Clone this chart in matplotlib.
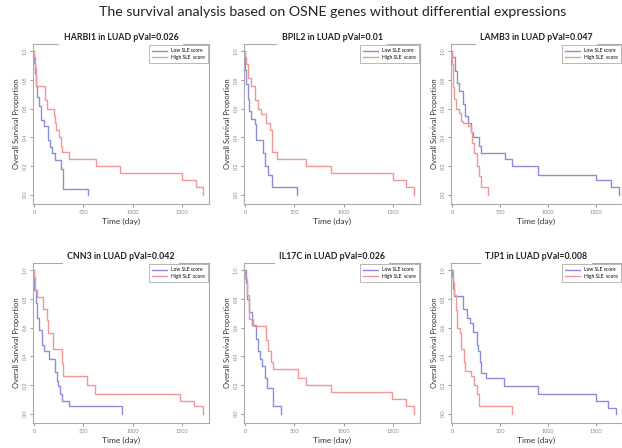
import numpy as np
import matplotlib
matplotlib.use("Agg")
import matplotlib.pyplot as plt

plt.rcParams['font.family'] = ['Lato', 'DejaVu Sans']

suptitle = "The survival analysis based on OSNE genes without differential expressions"
genes = ["HARBI1", "BPIL2", "LAMB3", "CNN3", "IL17C", "TJP1"]
pvals = ["0.026", "0.01", "0.047", "0.042", "0.026", "0.008"]

# Kaplan-Meier steps: (days, survival) for low / high SLE score
low_t = [
    [0, 5, 10, 20, 30, 50, 74, 101, 141, 158, 185, 209, 269, 293, 545],
    [0, 2, 7, 28, 45, 62, 97, 114, 183, 200, 235, 276, 521],
    [0, 2, 34, 48, 76, 110, 134, 162, 196, 224, 282, 299, 557, 626, 894, 1503, 1658, 1737],
    [0, 3, 17, 34, 51, 85, 101, 155, 213, 230, 247, 264, 281, 355, 889],
    [0, 10, 24, 41, 75, 109, 133, 153, 177, 201, 221, 279, 364],
    [0, 2, 7, 24, 114, 158, 192, 215, 259, 276, 292, 302, 353, 538, 897, 1495, 1620, 1710],
]
low_s = [
    [1.0, 0.92, 0.84, 0.76, 0.68, 0.62, 0.52, 0.48, 0.38, 0.33, 0.29, 0.24, 0.18, 0.04, 0.0],
    [1.0, 0.87, 0.77, 0.67, 0.58, 0.53, 0.49, 0.38, 0.29, 0.20, 0.14, 0.05, 0.0],
    [1.0, 0.96, 0.86, 0.78, 0.72, 0.63, 0.55, 0.50, 0.44, 0.40, 0.34, 0.29, 0.25, 0.20, 0.14, 0.10, 0.05, 0.0],
    [1.0, 0.86, 0.77, 0.67, 0.58, 0.48, 0.44, 0.38, 0.29, 0.23, 0.19, 0.14, 0.09, 0.05, 0.0],
    [1.0, 0.91, 0.80, 0.71, 0.62, 0.52, 0.44, 0.38, 0.33, 0.25, 0.18, 0.05, 0.0],
    [1.0, 0.95, 0.87, 0.82, 0.73, 0.67, 0.63, 0.57, 0.48, 0.44, 0.36, 0.28, 0.25, 0.19, 0.14, 0.09, 0.04, 0.0],
]
high_t = [
    [0, 3, 15, 20, 114, 135, 202, 215, 226, 253, 269, 283, 354, 623, 865, 1498, 1640, 1714],
    [0, 3, 10, 28, 62, 97, 131, 166, 217, 252, 270, 276, 328, 614, 866, 1494, 1632, 1714],
    [0, 2, 7, 24, 41, 76, 93, 120, 162, 196, 213, 230, 265, 282, 299, 375],
    [0, 2, 10, 27, 95, 128, 145, 196, 281, 297, 534, 619, 1480, 1622, 1707],
    [0, 2, 24, 41, 85, 211, 228, 262, 279, 541, 619, 874, 1486, 1629, 1714],
    [0, 13, 24, 40, 57, 84, 91, 124, 134, 198, 225, 259, 282, 628],
]
high_s = [
    [1.0, 0.96, 0.88, 0.76, 0.66, 0.60, 0.55, 0.50, 0.45, 0.40, 0.34, 0.30, 0.25, 0.20, 0.15, 0.10, 0.05, 0.0],
    [1.0, 0.96, 0.91, 0.81, 0.76, 0.66, 0.60, 0.56, 0.50, 0.45, 0.35, 0.30, 0.25, 0.20, 0.15, 0.10, 0.05, 0.0],
    [1.0, 0.91, 0.75, 0.67, 0.60, 0.57, 0.51, 0.50, 0.48, 0.44, 0.36, 0.29, 0.20, 0.13, 0.05, 0.0],
    [1.0, 0.95, 0.86, 0.81, 0.73, 0.65, 0.56, 0.45, 0.35, 0.26, 0.20, 0.14, 0.09, 0.05, 0.0],
    [1.0, 0.94, 0.83, 0.66, 0.61, 0.51, 0.44, 0.36, 0.31, 0.25, 0.20, 0.15, 0.10, 0.05, 0.0],
    [1.0, 0.92, 0.83, 0.72, 0.60, 0.56, 0.45, 0.36, 0.30, 0.26, 0.20, 0.14, 0.05, 0.0],
]
legend_labels = ["Low SLE score", "High SLE  score"]

blue = '#8c8cd8'
red = '#f29696'
W, H = 622, 448
fig = plt.figure(figsize=(W / 100, H / 100), dpi=100)
fig.text(333 / W, 1 - 12 / H, suptitle, ha='center', va='center', fontsize=10.2, color='#222222')

lefts = [33, 244, 451]
widths = [176, 176, 171]
tops = [44, 263]
for i in range(6):
    r, c = divmod(i, 3)
    ax = fig.add_axes([lefts[c] / W, 1 - (tops[r] + 160) / H, widths[c] / W, 160 / H])
    ax.step(low_t[i], low_s[i], where='post', color=blue, lw=1.0, label=legend_labels[0])
    ax.step(high_t[i], high_s[i], where='post', color=red, lw=1.0, label=legend_labels[1])
    ax.set_xlim(-10, 1770)
    ax.set_ylim(-0.065, 1.05)
    ax.set_xticks([0, 500, 1000, 1500])
    ax.set_yticks([0.0, 0.2, 0.4, 0.6, 0.8, 1.0])
    ax.set_yticklabels(['0.0', '0.2', '0.4', '0.6', '0.8', '1.0'], rotation=90, va='center')
    ax.tick_params(labelsize=4, colors='#888888', length=2, width=0.6, pad=2)
    for sp in ax.spines.values():
        sp.set_color('#aaaaaa')
        sp.set_linewidth(0.8)
    ax.set_title(f"{genes[i]} in LUAD pVal={pvals[i]}", fontsize=6.3, fontweight='bold',
                 pad=3, color='#222222',
                 bbox=dict(facecolor='white', edgecolor='none', pad=3))
    ax.set_ylabel("Overall Survival Proportion", fontsize=5.5, color='#333333', labelpad=2)
    ax.set_xlabel("Time (day)", fontsize=6, color='#333333', labelpad=2)
    leg = ax.legend(loc='upper right', fontsize=3.5, frameon=True, fancybox=False,
                    handlelength=3, borderaxespad=0.3, borderpad=0.6, labelspacing=0.3)
    leg.get_frame().set_edgecolor('#999999')
    leg.get_frame().set_linewidth(0.6)

fig.savefig('out.png', dpi=100)
